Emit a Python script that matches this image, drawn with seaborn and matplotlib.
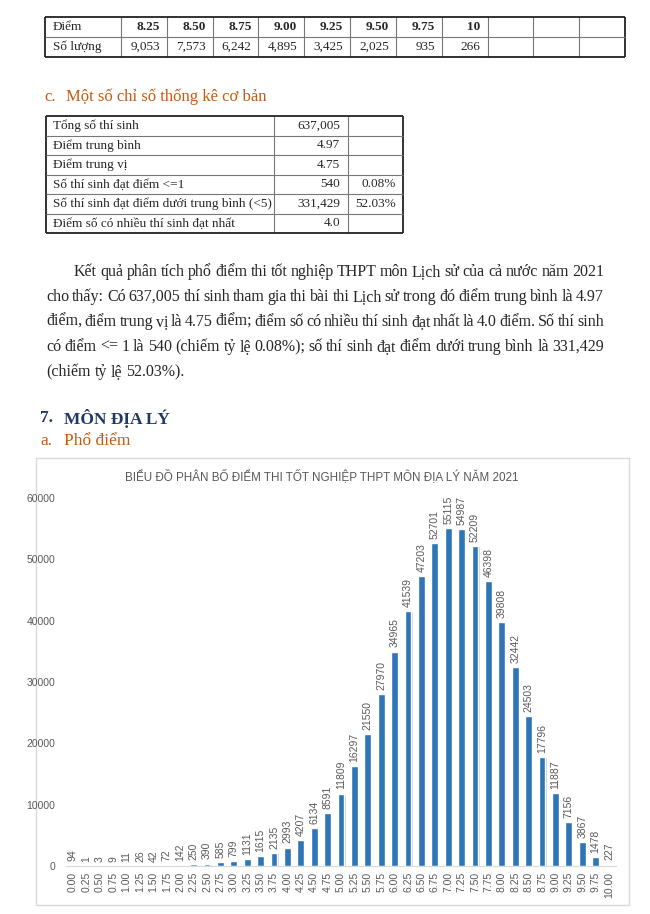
import numpy as np
import pandas as pd
import matplotlib
matplotlib.use('Agg')
import matplotlib.pyplot as plt
import seaborn as sns
from matplotlib.patches import Rectangle

sns.set_style('white')
plt.rcParams['font.family'] = ['Liberation Sans', 'DejaVu Sans']

# bảng phổ điểm (phần cuối của môn trước)
top_scores = ['8.25', '8.50', '8.75', '9.00', '9.25', '9.50', '9.75', '10']
top_counts = ['9,053', '7,573', '6,242', '4,895', '3,425', '2,025', '935', '266']

# chỉ số thống kê cơ bản
stat_names = ['Tổng số thí sinh', 'Điểm trung bình', 'Điểm trung vị',
              'Số thí sinh đạt điểm <=1', 'Số thí sinh đạt điểm dưới trung bình (<5)',
              'Điểm số có nhiều thí sinh đạt nhất']
stat_values = ['637,005', '4.97', '4.75', '540', '331,429', '4.0']
stat_pcts = ['', '', '', '0.08%', '52.03%', '']

para_lines = [
    'Kết quả phân tích phổ điểm thi tốt nghiệp THPT môn Lịch sử của cả nước năm 2021',
    'cho thấy: Có 637,005 thí sinh tham gia thi bài thi Lịch sử trong đó điểm trung bình là 4.97',
    'điểm, điểm trung vị là 4.75 điểm; điểm số có nhiều thí sinh đạt nhất là 4.0 điểm. Số thí sinh',
    'có điểm <= 1 là 540 (chiếm tỷ lệ 0.08%); số thí sinh đạt điểm dưới trung bình là 331,429',
    '(chiếm tỷ lệ 52.03%).',
]

# phổ điểm môn Địa lý 2021
diem = ['0.00', '0.25', '0.50', '0.75', '1.00', '1.25', '1.50', '1.75', '2.00', '2.25',
        '2.50', '2.75', '3.00', '3.25', '3.50', '3.75', '4.00', '4.25', '4.50', '4.75',
        '5.00', '5.25', '5.50', '5.75', '6.00', '6.25', '6.50', '6.75', '7.00', '7.25',
        '7.50', '7.75', '8.00', '8.25', '8.50', '8.75', '9.00', '9.25', '9.50', '9.75',
        '10.00']
so_luong = [94, 1, 3, 9, 11, 26, 42, 72, 142, 250,
            390, 585, 799, 1131, 1615, 2135, 2993, 4207, 6134, 8591,
            11809, 16297, 21550, 27970, 34965, 41539, 47203, 52701, 55115, 54987,
            52209, 46398, 39808, 32442, 24503, 17796, 11887, 7156, 3867, 1478,
            227]

W, H = 650, 914
SERIF = 'Liberation Serif'
ORANGE = '#C55A11'
GRAY = '#595959'

fig = plt.figure(figsize=(W / 100, H / 100), dpi=100)
page = fig.add_axes([0, 0, 1, 1])
page.set_xlim(0, W)
page.set_ylim(H, 0)
page.axis('off')
page.patch.set_alpha(0)
renderer = fig.canvas.get_renderer()


def box_lines(xs, ys):
    for i, x in enumerate(xs):
        outer = i in (0, len(xs) - 1)
        page.plot([x, x], [ys[0], ys[-1]], color='#222' if outer else '#777',
                  lw=1.3 if outer else 0.8, solid_capstyle='butt')
    for j, y in enumerate(ys):
        outer = j in (0, len(ys) - 1)
        page.plot([xs[0], xs[-1]], [y, y], color='#222' if outer else '#777',
                  lw=1.3 if outer else 0.8, solid_capstyle='butt')


# bảng trên cùng
colw = (625 - 121) / 11
xs = [45] + [121 + i * colw for i in range(12)]
box_lines(xs, [17, 37, 57])
page.text(53, 27, 'Điểm', family=SERIF, fontsize=9.5, va='center')
page.text(53, 47, 'Số lượng', family=SERIF, fontsize=9.5, va='center')
for i, (s, c) in enumerate(zip(top_scores, top_counts)):
    xr = xs[i + 2] - 7
    page.text(xr, 27, s, family=SERIF, fontsize=9.5, va='center', ha='right', fontweight='bold')
    page.text(xr, 47, c, family=SERIF, fontsize=9.5, va='center', ha='right')

# tiêu đề c.
page.text(44, 97, 'c.', family=SERIF, fontsize=12, va='center', color=ORANGE)
page.text(66, 97, 'Một số chỉ số thống kê cơ bản', family=SERIF, fontsize=12,
          va='center', color=ORANGE)

# bảng thống kê
rows = [116 + i * 19.5 for i in range(7)]
box_lines([46, 274, 348, 403], rows)
for i in range(6):
    yc = (rows[i] + rows[i + 1]) / 2
    page.text(53, yc, stat_names[i], family=SERIF, fontsize=9.5, va='center')
    page.text(340, yc, stat_values[i], family=SERIF, fontsize=9.5, va='center', ha='right')
    page.text(396, yc, stat_pcts[i], family=SERIF, fontsize=9.5, va='center', ha='right')


# đoạn văn căn đều hai bên
def justify(line, x0, x1, y, size, last=False):
    words = line.split(' ')
    ts = [page.text(0, y, w, family=SERIF, fontsize=size, va='center') for w in words]
    widths = [t.get_window_extent(renderer).width for t in ts]
    if last or len(words) == 1:
        gap = 0.25 * size * 100 / 72
    else:
        gap = (x1 - x0 - sum(widths)) / (len(words) - 1)
    x = x0
    for t, w in zip(ts, widths):
        t.set_x(x)
        x += w + gap


for k, line in enumerate(para_lines):
    x0 = 74 if k == 0 else 46
    justify(line, x0, 604, 272 + k * 25, 11.5, last=(k == len(para_lines) - 1))

# mục 7
page.text(40, 418, '7.', family=SERIF, fontsize=12.5, va='center', color='#1F3864',
          fontweight='bold')
page.text(64, 418, 'MÔN ĐỊA LÝ', family=SERIF, fontsize=12.5, va='center', color='#1F3864',
          fontweight='bold')
page.text(40, 441, 'a.', family=SERIF, fontsize=12.5, va='center', color=ORANGE)
page.text(64, 441, 'Phổ điểm', family=SERIF, fontsize=12.5, va='center', color=ORANGE)

# khung biểu đồ
page.add_patch(Rectangle((36, 458), 593, 447, facecolor='white', edgecolor='#D9D9D9', lw=1))
page.text(322, 476, 'BIỂU ĐỒ PHÂN BỐ ĐIỂM THI TỐT NGHIỆP THPT MÔN ĐỊA LÝ NĂM 2021',
          ha='center', va='center', fontsize=8.4, color=GRAY)

ax = fig.add_axes([66.3 / W, 1 - 866 / H, (615.7 - 66.3) / W, 368 / H])
ax.patch.set_alpha(0)
sns.barplot(x=diem, y=so_luong, color='#2E75B6', saturation=1, width=0.5, ax=ax)
for p in list(ax.patches):
    ax.add_patch(Rectangle((p.get_x() + 0.1, -250), p.get_width(), p.get_height(),
                           facecolor='#8c8c8c', alpha=0.4, lw=0, zorder=p.get_zorder() - 0.5))
ax.bar_label(ax.containers[0], rotation=90, padding=3, fontsize=7.5, color=GRAY)
ax.set_xlim(-0.5, len(diem) - 0.5)
ax.set_ylim(0, 60000)
ax.set_yticks(np.arange(0, 60001, 10000))
ax.tick_params(axis='both', length=0, labelsize=7.5, labelcolor=GRAY)
ax.tick_params(axis='y', pad=8)
ax.tick_params(axis='x', pad=4)
plt.setp(ax.get_xticklabels(), rotation=90)
ax.set_xlabel('')
ax.set_ylabel('')
for s in ['top', 'right', 'left']:
    ax.spines[s].set_visible(False)
ax.spines['bottom'].set_color('#D9D9D9')
ax.spines['bottom'].set_linewidth(0.8)

fig.savefig('out.png', dpi=100)
